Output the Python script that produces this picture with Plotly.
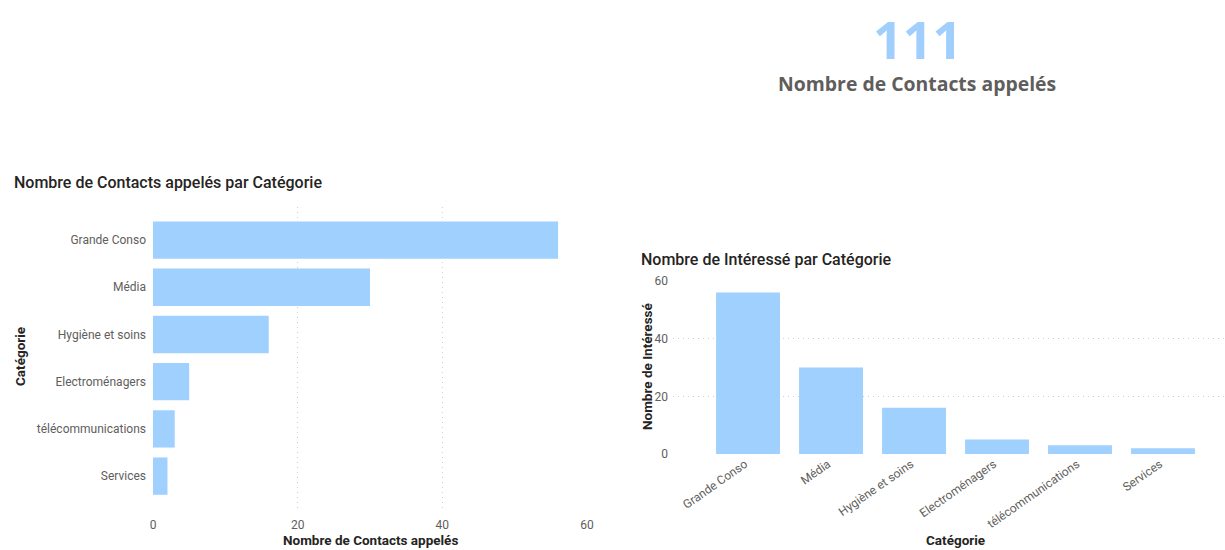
import plotly.graph_objects as go

categories = ["Grande Conso", "Média", "Hygiène et soins", "Electroménagers", "télécommunications", "Services"]
contacts_appeles = [56, 30, 16, 5, 3, 2]
interesses = [56, 30, 16, 5, 3, 2]
total_contacts = 111
tick_vals = [0, 20, 40, 60]

W, H = 1225, 550
BAR = "#a0d0fe"
TICK = "#605e5c"
DARK = "#252423"
GRID = "#cfcfcf"
FONT = "Roboto"

def px(x):
    return min(x / W, 1.0)

def py(y):
    return max(0.0, 1 - y / H)

fig = go.Figure()

fig.add_trace(go.Bar(
    y=categories, x=contacts_appeles, orientation="h",
    marker=dict(color=BAR, line=dict(width=0)), width=0.79,
    xaxis="x", yaxis="y", showlegend=False, hoverinfo="x+y"))

fig.add_trace(go.Bar(
    x=categories, y=interesses,
    marker=dict(color=BAR, line=dict(width=0)), width=0.77,
    xaxis="x2", yaxis="y2", showlegend=False, hoverinfo="x+y"))

fig.update_layout(
    width=W, height=H,
    margin=dict(l=0, r=0, t=0, b=0, autoexpand=False),
    paper_bgcolor="white", plot_bgcolor="white",
    font=dict(family=FONT, color=TICK, size=12),
    xaxis=dict(domain=[px(153), px(587)], range=[0, 60], tickvals=tick_vals,
               showgrid=True, gridcolor=GRID, griddash="1px,4px", gridwidth=1,
               zeroline=False, showline=False, anchor="y", automargin=False,
               ticklabelstandoff=4,
               tickfont=dict(family=FONT, size=12, color=TICK), ticks=""),
    yaxis=dict(domain=[py(512), py(207)], range=[5.76, -0.70],
               categoryorder="array", categoryarray=categories,
               showgrid=False, zeroline=False, showline=False, anchor="x",
               automargin=False, ticks="", ticklabelstandoff=6,
               tickfont=dict(family=FONT, size=12, color=TICK)),
    xaxis2=dict(domain=[px(673), 1.0], range=[-0.904, 5.747],
                categoryorder="array", categoryarray=categories,
                showgrid=False, zeroline=False, showline=False, anchor="y2",
                automargin=False, ticks="", tickangle=-35, ticklabelshift=-3,
                tickfont=dict(family=FONT, size=12, color=TICK)),
    yaxis2=dict(domain=[py(454), py(281)], range=[0, 60], tickvals=tick_vals,
                showgrid=True, gridcolor=GRID, griddash="1px,4px", gridwidth=1,
                zeroline=False, showline=False, anchor="x2", ticks="",
                automargin=False, ticklabelstandoff=4,
                tickfont=dict(family=FONT, size=12, color=TICK)),
    bargap=0.2,
)

ann = []
# Card
ann.append(dict(text=f"<b>{total_contacts}</b>", x=px(917), y=py(38), xref="paper", yref="paper",
                showarrow=False, xanchor="center", yanchor="middle",
                font=dict(family="Open Sans", size=52, color="#a0cffd")))
ann.append(dict(text="<b>Nombre de Contacts appelés</b>", x=px(917), y=py(84), xref="paper", yref="paper",
                showarrow=False, xanchor="center", yanchor="middle",
                font=dict(family="Open Sans", size=19.4, color=TICK)))
# Titles
ann.append(dict(text="Nombre de Contacts appelés par Catégorie", x=px(12), y=py(182), xref="paper", yref="paper",
                showarrow=False, xanchor="left", yanchor="middle",
                font=dict(family=FONT, size=16, color=DARK, weight=500)))
ann.append(dict(text="Nombre de Intéressé par Catégorie", x=px(639), y=py(259), xref="paper", yref="paper",
                showarrow=False, xanchor="left", yanchor="middle",
                font=dict(family=FONT, size=16, color=DARK, weight=500)))
# Axis titles
ann.append(dict(text="<b>Catégorie</b>", x=px(20), y=py(357), xref="paper", yref="paper",
                showarrow=False, textangle=-90, xanchor="center", yanchor="middle",
                font=dict(family=FONT, size=13.5, color=DARK)))
ann.append(dict(text="<b>Nombre de Contacts appelés</b>", x=px(370), y=0, xref="paper", yref="paper",
                showarrow=False, xanchor="center", yanchor="bottom",
                font=dict(family=FONT, size=13.5, color=DARK)))
ann.append(dict(text="<b>Nombre de Intéressé</b>", x=px(647), y=py(367), xref="paper", yref="paper",
                showarrow=False, textangle=-90, xanchor="center", yanchor="middle",
                font=dict(family=FONT, size=13.5, color=DARK)))
ann.append(dict(text="<b>Catégorie</b>", x=px(955), y=0, xref="paper", yref="paper",
                showarrow=False, xanchor="center", yanchor="bottom",
                font=dict(family=FONT, size=13.5, color=DARK)))
fig.update_layout(annotations=ann)

fig.write_html("out.html", config={"displayModeBar": False},
               post_script="document.body.style.margin='0';")
